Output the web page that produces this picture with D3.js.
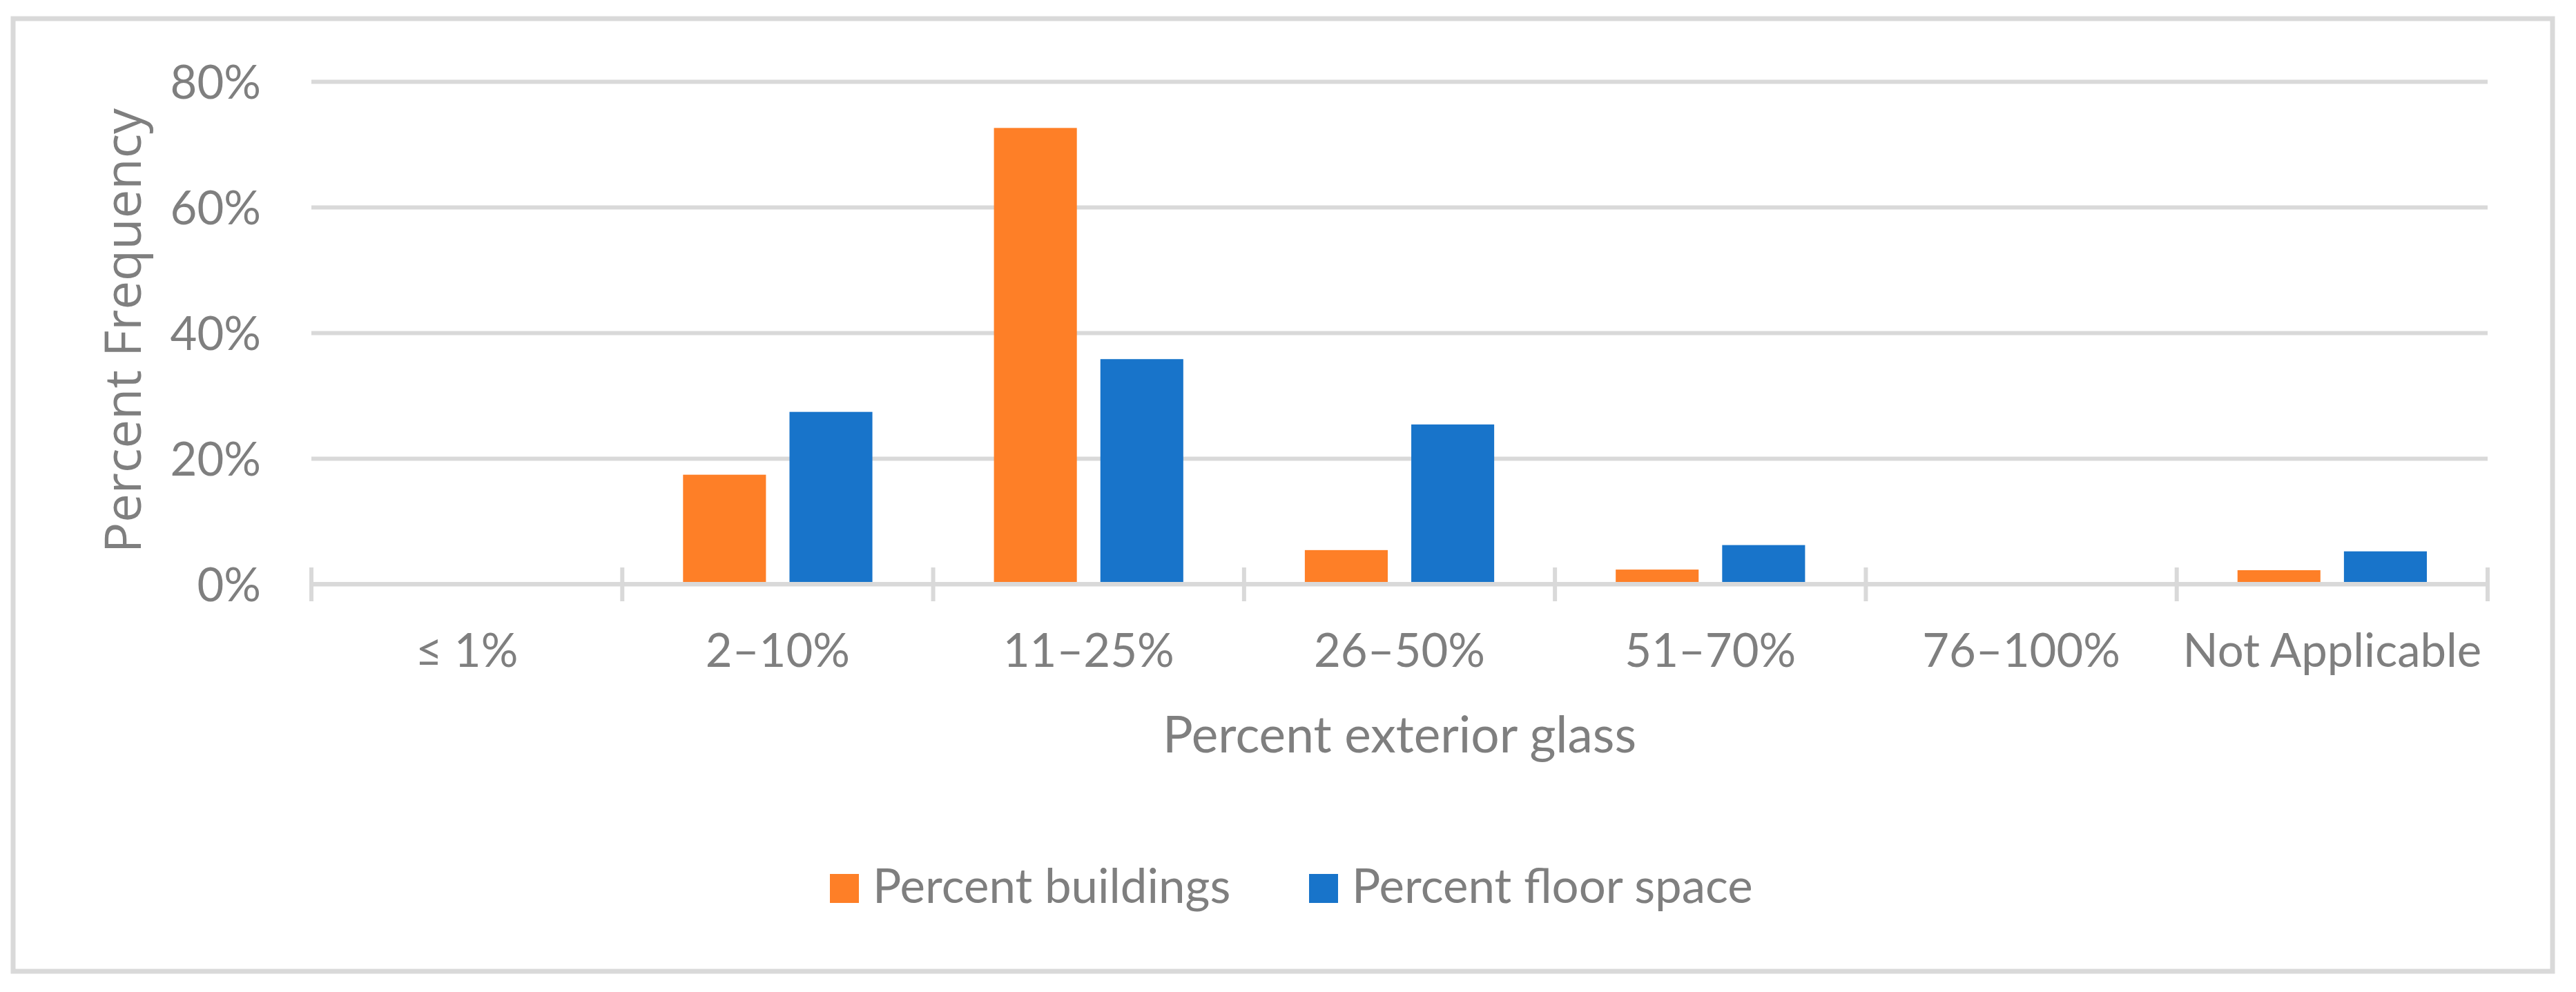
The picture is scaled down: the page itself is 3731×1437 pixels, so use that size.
<!DOCTYPE html>
<html>
<head>
<meta charset="utf-8">
<script src="https://cdn.jsdelivr.net/npm/d3@7"></script>
<style>
  body { margin: 0; background: #fff; }
  text { fill: #7f7f7f; }
</style>
</head>
<body>
<div id="chart"></div>
<script>
// data
const categories = ["≤ 1%", "2–10%", "11–25%", "26–50%", "51–70%", "76–100%", "Not Applicable"];
const seriesNames = ["Percent buildings", "Percent floor space"];
const buildings = [0, 0.174, 0.726, 0.054, 0.023, 0, 0.022];
const floorSpace = [0, 0.274, 0.358, 0.254, 0.062, 0, 0.052];
const yTicks = [0, 0.2, 0.4, 0.6, 0.8];
const colors = ["#fe7f27", "#1874ca"];

const svgWidth = 3731;
const svgHeight = 1437;

const plot = { left: 451, right: 3603, top: 118, bottom: 846 };

const svg = d3.select("#chart")
  .append("svg")
  .attr("width", svgWidth)
  .attr("height", svgHeight);

svg.append("rect")
  .attr("width", svgWidth)
  .attr("height", svgHeight)
  .attr("fill", "#fff");

// chart area border
svg.append("rect")
  .attr("x", 19)
  .attr("y", 27)
  .attr("width", 3678)
  .attr("height", 1380)
  .attr("fill", "none")
  .attr("stroke", "#d9d9d9")
  .attr("stroke-width", 7);

const x = d3.scaleBand()
  .domain(categories)
  .range([plot.left, plot.right])
  .padding(0);

const xInner = d3.scaleBand()
  .domain(seriesNames)
  .range([0, x.bandwidth()])
  .paddingInner(0.221)
  .paddingOuter(0.571);

const y = d3.scaleLinear()
  .domain([0, 0.8])
  .range([plot.bottom, plot.top]);

// gridlines + y labels
const yAxis = svg.append("g")
  .attr("transform", `translate(${plot.left},0)`)
  .call(d3.axisLeft(y)
    .tickValues(yTicks)
    .tickFormat(d3.format(".0%"))
    .tickSize(-(plot.right - plot.left))
    .tickPadding(73));

yAxis.select(".domain").remove();
yAxis.selectAll("line")
  .attr("stroke", "#d9d9d9")
  .attr("stroke-width", 6);
yAxis.selectAll("text")
  .attr("font-family", "Lato, sans-serif")
  .attr("font-size", 67)
  .attr("dy", "0.36em")
  .style("fill", "#7f7f7f");

// bars
const rows = categories.map((c, i) => ({ cat: c, vals: [buildings[i], floorSpace[i]] }));

const groups = svg.selectAll("g.cat")
  .data(rows)
  .enter()
  .append("g")
  .attr("class", "cat")
  .attr("transform", d => `translate(${x(d.cat)},0)`);

groups.selectAll("rect")
  .data(d => d.vals.map((v, j) => ({ name: seriesNames[j], v: v, j: j })))
  .enter()
  .append("rect")
  .filter(d => d.v > 0)
  .attr("x", d => xInner(d.name))
  .attr("y", d => y(d.v))
  .attr("width", xInner.bandwidth())
  .attr("height", d => y(0) - y(d.v) - 3)
  .attr("fill", d => colors[d.j]);

// x axis line and tick marks
svg.append("line")
  .attr("x1", plot.left)
  .attr("x2", plot.right)
  .attr("y1", y(0))
  .attr("y2", y(0))
  .attr("stroke", "#d9d9d9")
  .attr("stroke-width", 6);

const tickPos = categories.map(c => x(c)).concat([plot.right]);
svg.selectAll("line.xtick")
  .data(tickPos)
  .enter()
  .append("line")
  .attr("class", "xtick")
  .attr("x1", d => d)
  .attr("x2", d => d)
  .attr("y1", y(0) - 24)
  .attr("y2", y(0) + 25)
  .attr("stroke", "#d9d9d9")
  .attr("stroke-width", 6);

svg.selectAll("text.xlab")
  .data(categories)
  .enter()
  .append("text")
  .attr("class", "xlab")
  .attr("x", d => x(d) + x.bandwidth() / 2)
  .attr("y", 966)
  .attr("text-anchor", "middle")
  .attr("font-family", "Lato, sans-serif")
  .attr("font-size", 67)
  .text(d => d);

// axis titles
svg.append("text")
  .attr("x", (plot.left + plot.right) / 2)
  .attr("y", 1090)
  .attr("text-anchor", "middle")
  .attr("font-family", "Lato, sans-serif")
  .attr("font-size", 73)
  .text("Percent exterior glass");

svg.append("text")
  .attr("transform", "translate(204,479) rotate(-90)")
  .attr("text-anchor", "middle")
  .attr("font-family", "'Open Sans', sans-serif")
  .attr("font-size", 74)
  .text("Percent Frequency");

// legend
const legendItems = [
  { name: seriesNames[0], x: 1202, color: colors[0] },
  { name: seriesNames[1], x: 1896, color: colors[1] }
];

const legend = svg.selectAll("g.legend")
  .data(legendItems)
  .enter()
  .append("g")
  .attr("class", "legend")
  .attr("transform", d => `translate(${d.x},1266)`);

legend.append("rect")
  .attr("width", 42)
  .attr("height", 42)
  .attr("fill", d => d.color);

legend.append("text")
  .attr("x", 62)
  .attr("y", 42)
  .attr("font-family", "Lato, sans-serif")
  .attr("font-size", 69)
  .text(d => d.name);
</script>
</body>
</html>
